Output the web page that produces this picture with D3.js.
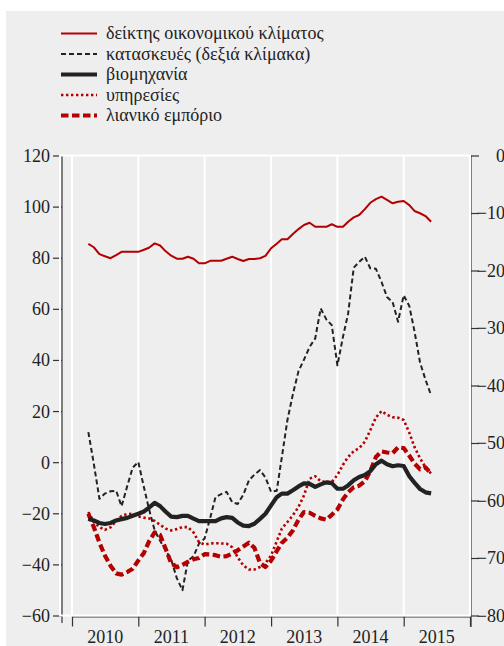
<!DOCTYPE html>
<html>
<head>
<meta charset="utf-8">
<script src="https://cdn.jsdelivr.net/npm/d3@7"></script>
<style>
  html, body { margin: 0; padding: 0; background: #fff; }
  svg { display: block; }
</style>
</head>
<body>
<div id="chart"></div>
<script>
// monthly values, April 2010 .. June 2015
var firstMonth = new Date(2010, 3, 1);
var lastMonth = new Date(2015, 5, 1);

// δείκτης οικονομικού κλίματος (left scale)
var climate = [85.4, 84.1, 81.4, 80.6, 79.8, 81.0, 82.3, 82.3, 82.3, 82.3,
  83.1, 83.9, 85.6, 84.8, 82.5, 80.8, 79.6, 79.6, 80.4, 79.6,
  77.8, 77.8, 78.8, 78.8, 78.8, 79.6, 80.4, 79.5, 78.7, 79.5,
  79.5, 79.8, 80.7, 83.7, 85.5, 87.2, 87.2, 89.3, 91.2, 92.8,
  93.7, 92.1, 92.1, 92.1, 93.1, 92.1, 92.1, 94.1, 95.8, 96.7,
  99.0, 101.5, 102.9, 103.9, 102.6, 101.3, 101.9, 102.2, 100.6, 98.3,
  97.4, 96.3, 94.1];

// κατασκευές (right scale)
var construction = [-48.1, -53.6, -59.7, -58.8, -58.4, -58.3, -61.0, -57.5, -54.3, -53.3,
  -57.7, -61.5, -65.2, -67.0, -68.7, -70.3, -73.5, -75.6, -70.5, -69.7,
  -67.5, -66.6, -63.0, -59.4, -58.9, -58.5, -60.3, -60.6, -59.0, -56.5,
  -55.5, -54.7, -56.0, -58.5, -58.3, -52.5, -46.0, -41.5, -37.5, -35.5,
  -33.3, -31.8, -26.6, -28.5, -29.5, -36.5, -31.5, -27.5, -19.5, -18.5,
  -17.6, -19.6, -19.7, -22.0, -24.6, -25.5, -28.9, -24.3, -26.2, -30.5,
  -36.0, -39.0, -41.7];

// βιομηχανία (left scale)
var industry = [-22.1, -22.8, -23.8, -24.2, -23.8, -22.8, -22.3, -21.8, -21.0, -20.2,
  -19.3, -17.8, -15.9, -17.2, -19.4, -21.3, -21.5, -21.0, -21.0, -22.1,
  -23.1, -23.1, -23.1, -23.1, -22.0, -21.5, -21.8, -23.6, -24.8, -25.0,
  -24.1, -22.2, -20.2, -16.9, -13.7, -12.3, -12.3, -11.0, -9.5, -8.3,
  -8.5, -9.7, -8.7, -7.9, -8.2, -10.4, -10.4, -9.1, -7.1, -5.8,
  -5.0, -3.5, -0.8, 0.6, -0.8, -1.6, -1.2, -1.5, -5.5, -8.0,
  -10.5, -11.8, -12.2];

// υπηρεσίες (left scale)
var services = [-19.5, -23.4, -25.4, -26.5, -25.5, -23.0, -21.0, -20.3, -20.2, -21.2,
  -21.7, -22.0, -23.0, -24.5, -26.0, -26.7, -26.2, -25.4, -25.4, -27.5,
  -31.3, -32.2, -31.8, -31.7, -31.8, -31.9, -33.3, -37.2, -40.4, -42.0,
  -42.0, -41.0, -39.5, -36.5, -31.0, -26.0, -23.4, -20.8, -17.5, -13.0,
  -6.5, -5.5, -7.5, -7.8, -7.8, -5.0, -1.0, 2.0, 4.3, 5.5,
  8.0, 12.5, 17.5, 20.0, 18.5, 17.6, 17.4, 16.5, 11.5, 6.0,
  1.5, -2.0, -4.5];

// λιανικό εμπόριο (left scale)
var retail = [-20.2, -25.4, -31.5, -36.5, -40.5, -43.5, -44.0, -43.0, -41.7, -38.5,
  -35.5, -31.0, -27.5, -28.5, -34.0, -39.5, -41.1, -40.2, -39.0, -38.0,
  -37.5, -36.0, -36.1, -36.4, -37.0, -36.8, -35.8, -34.5, -33.0, -31.5,
  -33.5, -39.5, -41.0, -38.5, -34.8, -31.6, -29.5, -26.7, -22.5, -19.5,
  -19.8, -21.0, -22.0, -22.5, -20.6, -18.5, -14.5, -11.8, -9.8, -9.2,
  -7.5, -3.5, 2.0, 4.2, 3.8, 3.5, 5.8, 5.5, 2.5, -0.5,
  -2.8, -2.0, -4.5];

var leftTicks = [-60, -40, -20, 0, 20, 40, 60, 80, 100, 120];
var rightTicks = [-80, -70, -60, -50, -40, -30, -20, -10, 0];
var years = [2010, 2011, 2012, 2013, 2014, 2015];

var legendLabels = ["δείκτης οικονομικού κλίματος", "κατασκευές (δεξιά κλίμακα)",
  "βιομηχανία", "υπηρεσίες", "λιανικό εμπόριο"];

var serif = "'Liberation Serif', 'Times New Roman', Times, Tinos, 'DejaVu Serif', serif";
var red = "#b40000", dark = "#222";
var styles = [
  {color: red, width: 2, dash: null},
  {color: dark, width: 2, dash: "5,3"},
  {color: dark, width: 4.2, dash: null},
  {color: red, width: 2.6, dash: "2.4,2.6"},
  {color: red, width: 4.2, dash: "7.5,3.5"}
];

var W = 504, H = 646;
var svg = d3.select("#chart").append("svg")
    .attr("width", W)
    .attr("height", H);

// grey panel
svg.append("rect")
    .attr("x", 6).attr("y", 11)
    .attr("width", W - 6).attr("height", H - 11)
    .attr("fill", "#eeeeee");

var months = d3.timeMonth.range(firstMonth, d3.timeMonth.offset(lastMonth, 1));

var x = d3.scaleTime()
    .domain([new Date(2010, 0, 1), new Date(2016, 0, 1)])
    .range([72, 470]);
var yL = d3.scaleLinear().domain([-60, 120]).range([615.5, 155.5]);
var yR = d3.scaleLinear().domain([-80, 0]).range([615.5, 155.5]);

// axes
function styleAxis(g) {
  g.attr("font-size", null).attr("font-family", null);
  g.selectAll("path, line").attr("stroke", "#333").attr("stroke-width", 1.2);
  g.selectAll("text")
    .style("font-family", serif)
    .style("font-size", "18px")
    .attr("fill", "#222");
}

svg.append("g")
    .attr("transform", "translate(62,0)")
    .call(d3.axisLeft(yL).tickValues(leftTicks).tickSize(9).tickSizeOuter(0).tickPadding(3))
    .call(styleAxis)
    .call(function(g) {
      g.select(".domain").attr("d", "M0," + yL(120) + "V623");
      g.selectAll("text").attr("dy", "0.33em");
    });

svg.append("g")
    .attr("transform", "translate(471,0)")
    .call(d3.axisRight(yR).tickValues(rightTicks).tickSize(8).tickSizeOuter(0))
    .call(styleAxis)
    .call(function(g) {
      g.select(".domain").attr("d", "M0," + yR(0) + "V627");
      g.selectAll("text").attr("text-anchor", "end").attr("x", 34).attr("dy", "0.33em");
    });

var yearStarts = years.concat([2016]).map(function(y) { return new Date(y, 0, 1); });
svg.append("g")
    .attr("transform", "translate(0,616.5)")
    .call(d3.axisBottom(x).tickValues(yearStarts).tickSize(10).tickSizeOuter(0).tickFormat(""))
    .call(styleAxis);

svg.append("g").selectAll("text")
    .data(years)
  .enter().append("text")
    .attr("x", function(d) { return (x(new Date(d, 0, 1)) + x(new Date(d + 1, 0, 1))) / 2; })
    .attr("y", 643)
    .attr("text-anchor", "middle")
    .attr("fill", "#222")
    .style("font-family", serif)
    .style("font-size", "18px")
    .text(function(d) { return d; });

// white frame and year grid
svg.append("rect")
    .attr("x", 60).attr("y", 155.5)
    .attr("width", 410).attr("height", 460)
    .attr("fill", "none")
    .attr("stroke", "#fff")
    .attr("stroke-width", 2);

svg.append("g").selectAll("line")
    .data(yearStarts)
  .enter().append("line")
    .attr("x1", function(d) { return x(d); })
    .attr("x2", function(d) { return x(d); })
    .attr("y1", 155.5)
    .attr("y2", 615.5)
    .attr("stroke", "#fff")
    .attr("stroke-width", 2);

// series
var series = [
  {values: climate, y: yL},
  {values: construction, y: yR},
  {values: industry, y: yL},
  {values: services, y: yL},
  {values: retail, y: yL}
];
var drawOrder = [1, 4, 3, 2, 0];

drawOrder.forEach(function(k) {
  var s = series[k], st = styles[k];
  svg.append("path")
    .datum(s.values)
    .attr("fill", "none")
    .attr("stroke", st.color)
    .attr("stroke-width", st.width)
    .attr("stroke-dasharray", st.dash)
    .attr("stroke-linejoin", "round")
    .attr("d", d3.line()
      .x(function(d, i) { return x(months[i]); })
      .y(function(d) { return s.y(d); })
    );
});

// legend
var legend = svg.append("g");
legendLabels.forEach(function(label, i) {
  var ly = 33.5 + i * 20.5;
  legend.append("line")
    .attr("x1", 61).attr("x2", 97)
    .attr("y1", ly).attr("y2", ly)
    .attr("stroke", styles[i].color)
    .attr("stroke-width", styles[i].width)
    .attr("stroke-dasharray", styles[i].dash);
  legend.append("text")
    .attr("x", 106)
    .attr("y", ly + 5.5)
    .attr("fill", "#222")
    .style("font-family", serif)
    .style("font-size", "18px")
    .text(label);
});
</script>
</body>
</html>
